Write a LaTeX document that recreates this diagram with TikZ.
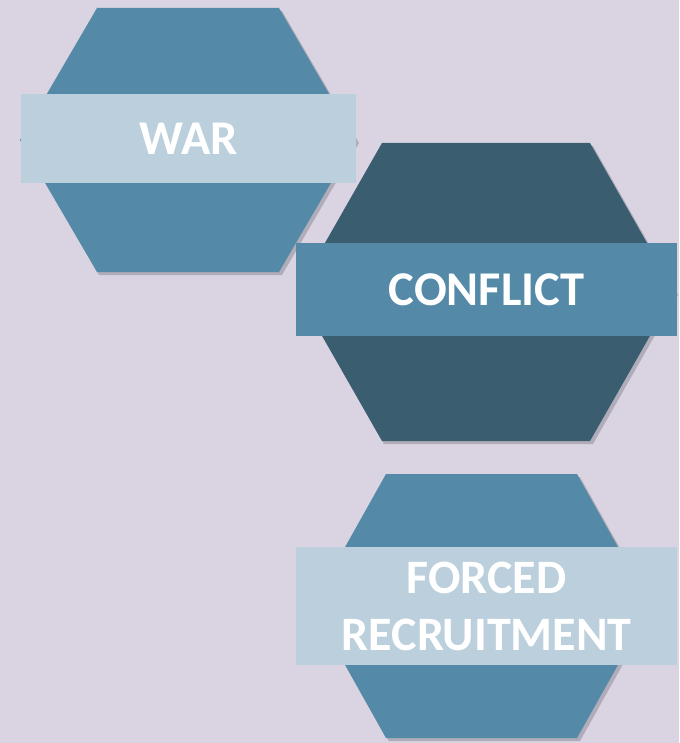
\documentclass[tikz,border=0pt]{standalone}
\usepackage{fontspec}
\setmainfont{Carlito}
\definecolor{bgc}{HTML}{D9D3E2}
\definecolor{midblue}{HTML}{548AA8}
\definecolor{darkblue}{HTML}{3A5D70}
\definecolor{lightblue}{HTML}{BCCFDC}
\begin{document}
\begin{tikzpicture}[x=1pt,y=-1pt,
  hexshadow/.style={fill=black,opacity=0.18},
  band/.style={rectangle,inner sep=0pt,anchor=north west,align=center,
    text=white,font=\bfseries},
]
\fill[bgc] (0,0) rectangle (679,743);
\useasboundingbox (0,0) rectangle (679,743);
% hexagon 1
\fill[hexshadow] (99,11) -- (282,11) -- (359,143) -- (282,275) -- (99,275) -- (23,143) -- cycle;
\fill[midblue] (97,8) -- (279,8) -- (356,140) -- (279,272) -- (97,272) -- (20,140) -- cycle;
\node[band,fill=lightblue,minimum width=335,minimum height=89,font=\bfseries\fontsize{48.5}{52}\selectfont] (war) at (21,94) {WAR};
% hexagon 2
\fill[hexshadow] (384,146) -- (593,146) -- (678,295) -- (593,444) -- (384,444) -- (300,295) -- cycle;
\fill[darkblue] (382,143) -- (590,143) -- (675,292) -- (590,441) -- (382,441) -- (297,292) -- cycle;
\node[band,fill=midblue,minimum width=381,minimum height=93,font=\bfseries\fontsize{48.5}{52}\selectfont] (conflict) at (296,243) {CONFLICT};
% hexagon 3
\fill[hexshadow] (389,477) -- (580,477) -- (654,609) -- (580,741) -- (389,741) -- (315,609) -- cycle;
\fill[midblue] (386,474) -- (577,474) -- (651,606) -- (577,738) -- (386,738) -- (312,606) -- cycle;
\node[band,fill=lightblue,minimum width=381,minimum height=118,font=\bfseries\fontsize{48}{57}\selectfont] (forced) at (296,547) {FORCED\\RECRUITMENT};
\end{tikzpicture}
\end{document}
